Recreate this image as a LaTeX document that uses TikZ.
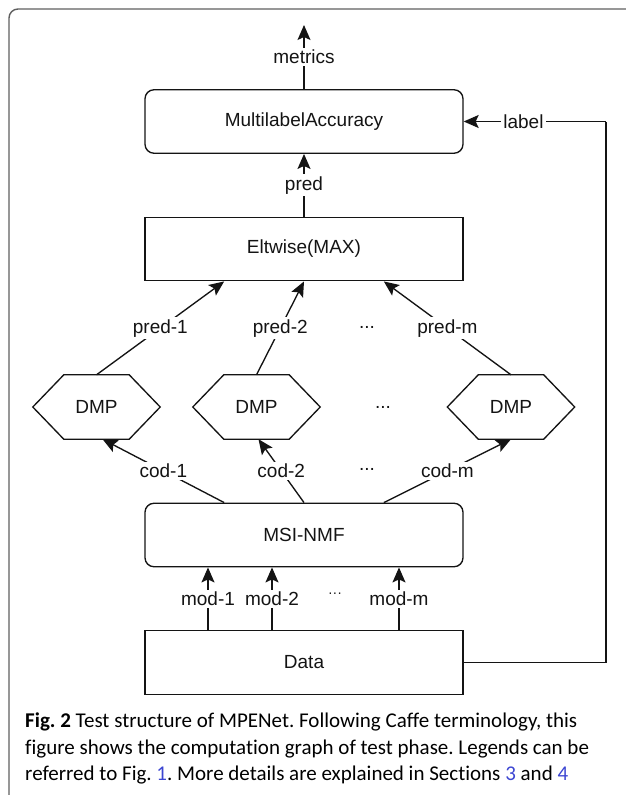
\documentclass[tikz,border=0pt]{standalone}
\usepackage{fontspec}
\setmainfont{Liberation Sans}
\newfontfamily\capfont[Ligatures={NoCommon}]{Carlito}
\usetikzlibrary{arrows.meta,calc}
\definecolor{linkblue}{RGB}{60,70,210}
\definecolor{framegray}{RGB}{95,95,95}
\definecolor{ink}{RGB}{20,20,20}
\frenchspacing

\begin{document}
\begin{tikzpicture}[x=1pt,y=-1pt,
  every node/.style={font=\fontsize{19}{22}\selectfont, text=ink},
  conn/.style={line width=1.35pt, draw=ink},
  arr/.style={conn, -{Stealth[length=15pt,width=13pt,inset=3pt]}},
  layerbox/.style={draw=ink, line width=1.35pt, minimum width=318pt, minimum height=63.5pt, inner sep=0pt},
  roundbox/.style={layerbox, rounded corners=9pt},
  hexspot/.style={minimum width=127pt, minimum height=64pt, inner sep=0pt},
  lbl/.style={fill=white, inner sep=2pt},
  capline/.style={font=\capfont\fontsize{21}{26}\selectfont, anchor=base west, inner sep=0pt, text=black}
]
\useasboundingbox (0,0) rectangle (626,795);
\clip (0,0) rectangle (626,795);

% outer panel frame
\draw[framegray, line width=1.4pt, rounded corners=9pt] (9,9) rectangle (660,830);

% layers
\node[roundbox] (mla) at (304,121.5) {MultilabelAccuracy};
\node[layerbox] (elt) at (304,249) {Eltwise(MAX)};
\node[roundbox] (msi) at (304,535) {MSI-NMF};
\node[layerbox] (data) at (304,662.5) {Data};

% DMP hexagons
\node[hexspot] (d1) at (96.5,407) {DMP};
\node[hexspot] (d2) at (256.5,407) {DMP};
\node[hexspot] (d3) at (511,407) {DMP};
\foreach \n in {d1,d2,d3}
  \draw[conn] (\n.west) -- ([xshift=31pt]\n.north west) -- ([xshift=-31pt]\n.north east)
    -- (\n.east) -- ([xshift=-31pt]\n.south east) -- ([xshift=31pt]\n.south west) -- cycle;
\node (ddots) at (383,407) {...};

% output
\coordinate (out) at (304,25);
\draw[arr] (mla.north) -- node[lbl] {metrics} (out);
\draw[arr] (elt.north) -- node[lbl] {pred} (mla.south);

% DMP predictions into Eltwise
\draw[arr] (d1.north) -- node[lbl] {pred-1} ($(elt.south west)!0.25!(elt.south east)$);
\draw[arr] (d2.north) -- node[lbl] {pred-2} ($(elt.south west)!0.5!(elt.south east)$);
\draw[arr] (d3.north) -- node[lbl] {pred-m} ($(elt.south west)!0.75!(elt.south east)$);
\node (pdots) at (367,327) {...};

% codes from MSI-NMF into DMP
\draw[arr] ($(msi.north west)!0.25!(msi.north east)$) -- node[lbl] {cod-1} ([xshift=6pt]d1.south);
\draw[arr] ($(msi.north west)!0.5!(msi.north east)$) -- node[lbl] {cod-2} ([xshift=2pt]d2.south);
\draw[arr] ($(msi.north west)!0.75!(msi.north east)$) -- node[lbl] {cod-m} (d3.south);
\node (cdots) at (367,469) {...};

% modalities from Data into MSI-NMF
\coordinate (m1) at (208,0);
\coordinate (m2) at (272,0);
\coordinate (mm) at (399,0);
\draw[arr] (data.north -| m1) -- node[lbl] {mod-1} (msi.south -| m1);
\draw[arr] (data.north -| m2) -- node[lbl] {mod-2} (msi.south -| m2);
\draw[arr] (data.north -| mm) -- node[lbl] {mod-m} (msi.south -| mm);
\node[font=\fontsize{14}{16}\selectfont] (mdots) at (335,595) {···};

% label path from Data round to MultilabelAccuracy
\coordinate (rail) at (606,0);
\coordinate (r1) at (data.east -| rail);
\coordinate (r2) at (mla.east -| rail);
\draw[conn] (data.east) -- (r1) -- (r2);
\draw[arr] (r2) -- node[lbl, pos=0.58] {label} (mla.east);

% caption
\node[capline] (cap1) at (25,727.5) {\textbf{Fig. 2} Test structure of MPENet. Following Caffe terminology, this};
\node[capline] (cap2) at (25,754) {figure shows the computation graph of test phase. Legends can be};
\node[capline] (cap3) at (25,780.5) {referred to Fig. \textcolor{linkblue}{1}. More details are explained in Sections \textcolor{linkblue}{3} and \textcolor{linkblue}{4}};
\end{tikzpicture}
\end{document}
